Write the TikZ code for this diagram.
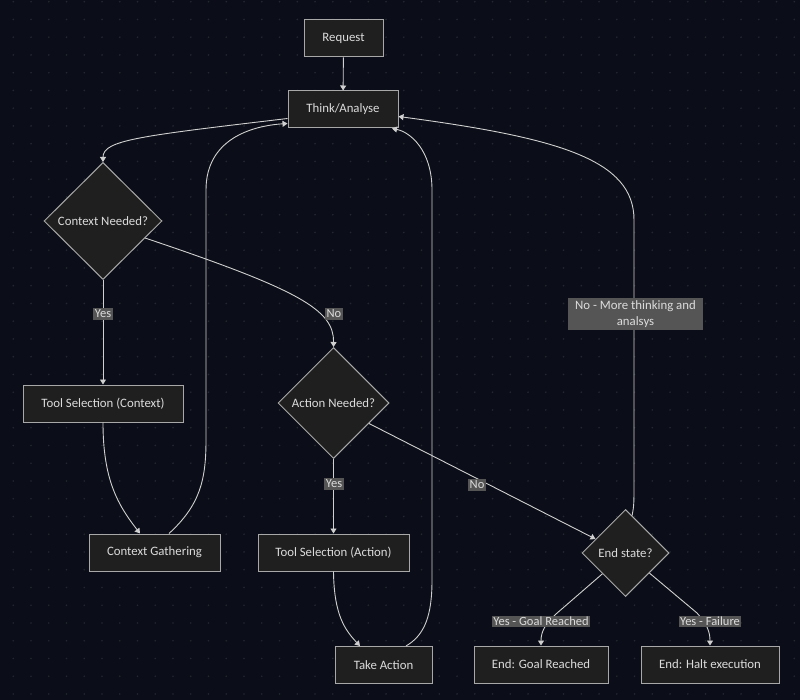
\documentclass[tikz,border=0pt]{standalone}
\usepackage{fontspec}
\setmainfont{Carlito}
\usetikzlibrary{shapes.geometric,arrows.meta,calc}
\definecolor{bgc}{HTML}{0B0E18}
\definecolor{dotc}{HTML}{23272F}
\definecolor{nodefill}{HTML}{1F1F1F}
\definecolor{nodeborder}{HTML}{A8A8A8}
\definecolor{linec}{HTML}{D0D0D0}
\definecolor{txtc}{HTML}{DCDCDC}
\definecolor{lblfill}{HTML}{555555}
\tikzset{
  box/.style={rectangle, draw=nodeborder, fill=nodefill, line width=1pt, text=txtc,
    minimum height=37pt, inner sep=0pt, font=\fontsize{12.8}{14}\selectfont},
  dia/.style={diamond, aspect=1, draw=nodeborder, fill=nodefill, line width=1pt, text=txtc,
    inner sep=0pt, font=\fontsize{12.8}{14}\selectfont},
  arr/.style={draw=linec, line width=0.9pt, -{Triangle[width=6pt,length=5pt]}},
  lbl/.style={fill=lblfill, text=txtc, inner xsep=1.5pt, inner ysep=1.5pt,
    font=\fontsize{12.5}{14}\selectfont},
}
\begin{document}
\begin{tikzpicture}[x=1pt,y=-1pt]
\fill[bgc] (0,0) rectangle (800,700);
\useasboundingbox (0,0) rectangle (800,700);
\foreach \i in {0,...,45}{
  \foreach \j in {0,...,39}{
    \fill[dotc] (13.3+\i*17.75,1.7+\j*17.75) circle (0.9pt);
  }
}
% nodes
\node[box, minimum width=79pt] (req) at (343.5,38.5) {Request};
\node[box, minimum width=110pt] (think) at (343,109.5) {Think/Analyse};
\node[dia, minimum width=118pt, minimum height=117pt] (ctxq) at (103,221) {Context Needed?};
\node[box, minimum width=160pt] (tsc) at (103,403.5) {Tool Selection (Context)};
\node[box, minimum width=131pt] (cg) at (154.5,552.5) {Context Gathering};
\node[dia, minimum width=111pt, minimum height=111pt] (actq) at (333.5,403) {Action Needed?};
\node[box, minimum width=151pt] (tsa) at (333.5,552.5) {Tool Selection (Action)};
\node[box, minimum width=97pt] (take) at (383.5,665) {Take Action};
\node[dia, minimum width=87pt, minimum height=87pt] (endq) at (625.5,553) {End state?};
\node[box, minimum width=134pt] (goal) at (541,664.5) {End: Goal Reached};
\node[box, minimum width=138pt] (halt) at (710,664.5) {End: Halt execution};
% edges
\draw[arr] (req) -- (think);
\draw[arr] ([yshift=-9pt]think.west) .. controls (140,136) and (103,140) .. (ctxq.north);
\draw[arr] (ctxq.south) -- (tsc.north);
\draw[arr] (ctxq.-22) .. controls (300,290) and (334,310) .. (actq.north);
\draw[arr] (tsc.south) .. controls (103,480) and (118,505) .. ([xshift=-14.5pt]cg.north);
\draw[arr] ([xshift=14.5pt]cg.north) .. controls (200,505) and (206,480) .. (206,440)
   -- (206,190) .. controls (206,140) and (250,126) .. ([yshift=-14pt]think.west);
\draw[arr] (actq.south) -- (tsa.north);
\draw[arr] (tsa.south) .. controls (334,615) and (345,630) .. ([xshift=-23.5pt]take.north);
\draw[arr] ([xshift=22.5pt]take.north) .. controls (425,635) and (432,615) .. (432,580)
   -- (432,190) .. controls (432,150) and (410,132) .. ([xshift=49pt]think.south);
\draw[arr] (actq.-30.6) -- (endq.155.3);
\draw[arr] (endq.80) .. controls (634,505) .. (634,480) -- (634,220)
   .. controls (634,160) and (560,138) .. ([yshift=-7pt]think.east);
\draw[arr] (endq.222) -- (556,614) .. controls (545,624) and (541,632) .. (goal.north);
\draw[arr] (endq.-40) -- (697,613) .. controls (707,624) and (710,632) .. (halt.north);
% labels
\node[lbl] (l1) at (103,314) {Yes};
\node[lbl] (l2) at (334,314) {No};
\node[lbl] (l3) at (334,484) {Yes};
\node[lbl] (l4) at (477,485) {No};
\node[lbl, minimum width=135pt, minimum height=32pt, align=center, inner ysep=1pt,
  font=\fontsize{12.8}{16}\selectfont] (l5) at (635.5,314) {No - More thinking and\\analsys};
\node[lbl] (l6) at (541,621.5) {Yes - Goal Reached};
\node[lbl] (l7) at (710,621.5) {Yes - Failure};
\end{tikzpicture}
\end{document}
